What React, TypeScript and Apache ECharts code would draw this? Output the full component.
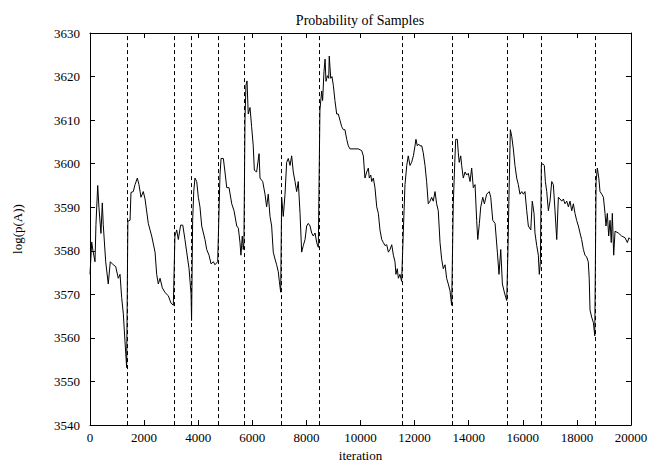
import React, { useEffect, useRef } from "react";
import * as echarts from "echarts";

const titleText = "Probability of Samples";
const xName = "iteration";
const yName = "log(p(A))";

const restartIterations = [1380, 3120, 3760, 4740, 5700, 7060, 8470, 11560, 13390, 15420, 16670, 18670];

const seg1: [number, number][] = [
  [0, 3574.6], [63, 3582], [110, 3580], [185, 3577.5], [220, 3586], [285, 3595], [330, 3590], [405, 3584],
  [455, 3591], [490, 3586], [580, 3577.5], [675, 3572.4], [750, 3577.5], [860, 3576.8], [950, 3576.4],
  [1045, 3573.7], [1110, 3574.6], [1170, 3569.3], [1230, 3565.7], [1295, 3559.1], [1355, 3553.2],
];
const seg2: [number, number][] = [
  [1400, 3586.8], [1480, 3587], [1515, 3593.4], [1600, 3593.6], [1665, 3595.2], [1750, 3596.7], [1810, 3595.2],
  [1885, 3592.3], [1970, 3593.6], [2035, 3591.9], [2155, 3586.3], [2280, 3583.4], [2405, 3579.7], [2465, 3574.6],
  [2525, 3572.4], [2590, 3573.7], [2675, 3571.5], [2775, 3570.4], [2895, 3569.7], [2995, 3568], [3080, 3567.5],
];
const seg3: [number, number][] = [
  [3140, 3583.4], [3205, 3584.8], [3265, 3582.6], [3350, 3585.9], [3430, 3585.9], [3510, 3582.6], [3575, 3579.7],
  [3660, 3576], [3735, 3570.1], [3755, 3564],
];
const seg4: [number, number][] = [
  [3795, 3587], [3835, 3593.6], [3880, 3596.7], [3945, 3595.9], [4005, 3592.3], [4065, 3590.1], [4130, 3585.7],
  [4250, 3582.6], [4315, 3580.3], [4400, 3579], [4475, 3577], [4560, 3577.5], [4620, 3576.8], [4720, 3577.5],
];
const seg5: [number, number][] = [
  [4805, 3597.4], [4845, 3601.2], [4930, 3601.2], [4990, 3598.1], [5055, 3594.5], [5140, 3594.5], [5240, 3590.8],
  [5325, 3589.2], [5425, 3585.7], [5485, 3585.2], [5545, 3581.9], [5580, 3579], [5630, 3583.4], [5665, 3580.3],
  [5690, 3581.9],
];
const seg6: [number, number][] = [
  [5730, 3610], [5765, 3618], [5805, 3619], [5850, 3611.4], [5915, 3612.9], [5975, 3608.5], [6035, 3604.1],
  [6075, 3598.5], [6160, 3598.1], [6250, 3602.3], [6285, 3596.7], [6385, 3595.9], [6470, 3593], [6530, 3590.1],
  [6590, 3593], [6655, 3587.9], [6715, 3585.7], [6775, 3579.7], [6840, 3578.1], [6900, 3576.8], [6960, 3575.2],
  [7000, 3573], [7050, 3570.5],
];
const seg7: [number, number][] = [
  [7085, 3592.3], [7145, 3587.9], [7210, 3593], [7270, 3600.3], [7330, 3601.2], [7395, 3599.6], [7455, 3601.8],
  [7515, 3598.1], [7580, 3595.9], [7640, 3593.6], [7700, 3595.9], [7765, 3588.6], [7825, 3579.7], [7885, 3581.2],
  [7950, 3582.6], [8010, 3585.7], [8070, 3586.3], [8135, 3585.7], [8195, 3584.1], [8255, 3583.4], [8320, 3584.1],
  [8380, 3581.9], [8440, 3580.8],
];
const seg8: [number, number][] = [
  [8500, 3612.3], [8565, 3616.7], [8600, 3614.5], [8650, 3621.1], [8690, 3624], [8725, 3618.9], [8775, 3620.2],
  [8825, 3619.6], [8845, 3624.7], [8900, 3619.6], [8945, 3620], [8995, 3618], [9055, 3614.5], [9120, 3611.4],
  [9180, 3611.4], [9240, 3610], [9305, 3608.5], [9365, 3607.8], [9425, 3607.8], [9490, 3605.6], [9550, 3604.1],
  [9610, 3603.4], [9920, 3603.4], [10045, 3603], [10105, 3601.8], [10165, 3596.7], [10230, 3598.1], [10290, 3599],
  [10325, 3596.7], [10380, 3597.4], [10415, 3595.9], [10475, 3596.7], [10535, 3594.5], [10600, 3590.1],
  [10660, 3588.6], [10720, 3584.8], [10785, 3582.6], [10845, 3581.9], [10905, 3581.2], [10970, 3581.4],
  [11030, 3579.7], [11090, 3580.3], [11155, 3581.4], [11215, 3579], [11275, 3577.5], [11310, 3574.6],
  [11360, 3575.9], [11400, 3573.7], [11460, 3574.6], [11520, 3573],
];
const seg9: [number, number][] = [
  [11610, 3589.2], [11645, 3595.2], [11710, 3599.6], [11765, 3601.8], [11830, 3599.6], [11890, 3600.3],
  [11955, 3601.8], [12015, 3604.1], [12050, 3605.6], [12100, 3604.1], [12150, 3604.5], [12200, 3604.1],
  [12265, 3604.1], [12320, 3602.5], [12385, 3599.6], [12445, 3595.9], [12505, 3590.8], [12570, 3591.4],
  [12630, 3592.3], [12690, 3591.4], [12755, 3593.6], [12815, 3590.8], [12875, 3589.2], [12940, 3581.9],
  [13000, 3578.1], [13060, 3575.9], [13125, 3576.8], [13185, 3573.7], [13245, 3572.4], [13310, 3570.8],
  [13370, 3567.5],
];
const seg10: [number, number][] = [
  [13430, 3590.8], [13485, 3600.3], [13520, 3605.6], [13580, 3605.6], [13615, 3602.5], [13650, 3600.3],
  [13705, 3601.8], [13740, 3599.6], [13800, 3596.7], [13865, 3598.1], [13925, 3597.4], [13985, 3597.8],
  [14050, 3595.9], [14110, 3599], [14170, 3594.5], [14235, 3595.2], [14295, 3587], [14335, 3582.6],
  [14395, 3586.3], [14445, 3590.1], [14520, 3592.3], [14580, 3590.8], [14665, 3593], [14760, 3593.6],
  [14815, 3592.3], [14890, 3587], [14975, 3586.3], [15060, 3579.7], [15120, 3574.6], [15185, 3580.3],
  [15245, 3572.4], [15305, 3570.8], [15370, 3569.3], [15405, 3568.6],
];
const seg11: [number, number][] = [
  [15455, 3581.2], [15490, 3593], [15540, 3607.8], [15590, 3606.3], [15650, 3603.4], [15710, 3599.6],
  [15775, 3596.7], [15835, 3595.2], [15895, 3593], [15960, 3593.6], [16020, 3593], [16080, 3593.6],
  [16145, 3589.2], [16205, 3585.7], [16295, 3584.8], [16350, 3591.4], [16415, 3588.6], [16450, 3584.1],
  [16515, 3581.2], [16575, 3579], [16610, 3574.6], [16650, 3577.5],
];
const seg12: [number, number][] = [
  [16685, 3599.6], [16735, 3600], [16795, 3599.6], [16835, 3595.9], [16885, 3593.6], [16945, 3589.2],
  [17005, 3591.4], [17070, 3595.9], [17130, 3595.2], [17190, 3589.2], [17255, 3582.6], [17315, 3592.3],
  [17375, 3591.9], [17440, 3591.4], [17500, 3591.9], [17560, 3590.8], [17625, 3591.4], [17685, 3590.1],
  [17745, 3591.4], [17810, 3589.2], [17870, 3590.8], [17930, 3588.6], [17990, 3587], [18055, 3585.7],
  [18115, 3584.1], [18175, 3582.6], [18240, 3580.3], [18300, 3579], [18360, 3578.6], [18420, 3577.5],
  [18455, 3573.7], [18485, 3566.4], [18545, 3564.8], [18610, 3563.5], [18660, 3560.5],
];
const seg13: [number, number][] = [
  [18710, 3595.9], [18755, 3599], [18810, 3596.7], [18855, 3593.6], [18920, 3593], [18980, 3592.3],
  [19040, 3588.6], [19075, 3585.7], [19125, 3588.6], [19175, 3583.4], [19225, 3587], [19270, 3581.9],
  [19310, 3588.6], [19360, 3579], [19410, 3584.5], [19530, 3584.1], [19655, 3583.4], [19780, 3583],
  [19865, 3581.9], [19925, 3583], [19990, 3582.6],
];

const samples = [
  ...seg1, ...seg2, ...seg3, ...seg4, ...seg5, ...seg6, ...seg7,
  ...seg8, ...seg9, ...seg10, ...seg11, ...seg12, ...seg13,
];

const FONT = "Liberation Serif";

export default function App() {
  const ref = useRef<HTMLDivElement>(null);
  useEffect(() => {
    if (!ref.current) return;
    const chart = echarts.init(ref.current, undefined, { renderer: "svg" });
    const axisCommon = {
      type: "value" as const,
      axisLine: { show: true, onZero: false, lineStyle: { color: "#000", width: 1 } },
      axisTick: { show: true, inside: true, length: 5, lineStyle: { color: "#000", width: 1 } },
      splitLine: { show: false },
    };
    const plain = (v: number) => String(v);
    chart.setOption({
      animation: false,
      backgroundColor: "#fff",
      textStyle: { fontFamily: FONT },
      grid: { left: 90, right: 20, top: 33, bottom: 28, containLabel: false },
      graphic: [
        {
          type: "text",
          x: 360,
          y: 20,
          style: { text: titleText, fontFamily: FONT, fontSize: 14, fill: "#000", textAlign: "center", textVerticalAlign: "middle" },
        },
      ],
      xAxis: [
        {
          ...axisCommon,
          min: 0,
          max: 20000,
          interval: 2000,
          position: "bottom",
          axisLabel: { color: "#000", fontFamily: FONT, fontSize: 13, margin: 6, formatter: plain },
          name: xName,
          nameLocation: "middle",
          nameGap: 18,
          nameTextStyle: { color: "#000", fontFamily: FONT, fontSize: 13 },
        },
        {
          ...axisCommon,
          min: 0,
          max: 20000,
          interval: 2000,
          position: "top",
          axisLabel: { show: false },
        },
      ],
      yAxis: [
        {
          ...axisCommon,
          min: 3540,
          max: 3630,
          interval: 10,
          position: "left",
          axisLabel: { color: "#000", fontFamily: FONT, fontSize: 13, margin: 10, formatter: plain },
          name: yName,
          nameLocation: "middle",
          nameGap: 66,
          nameRotate: 90,
          nameTextStyle: { color: "#000", fontFamily: FONT, fontSize: 13 },
        },
        {
          ...axisCommon,
          min: 3540,
          max: 3630,
          interval: 10,
          position: "right",
          axisLabel: { show: false },
        },
      ],
      series: [
        {
          type: "line",
          data: samples,
          xAxisIndex: 0,
          yAxisIndex: 0,
          showSymbol: false,
          symbol: "none",
          lineStyle: { color: "#000", width: 1 },
          silent: true,
          markLine: {
            silent: true,
            symbol: ["none", "none"],
            label: { show: false },
            lineStyle: { color: "#000", width: 1, type: [4, 3] },
            data: restartIterations.map((v) => ({ xAxis: v })),
          },
        },
      ],
    });
    return () => chart.dispose();
  }, []);
  return <div ref={ref} style={{ position: "absolute", left: 0, top: 0, width: 651, height: 467 }} />;
}
